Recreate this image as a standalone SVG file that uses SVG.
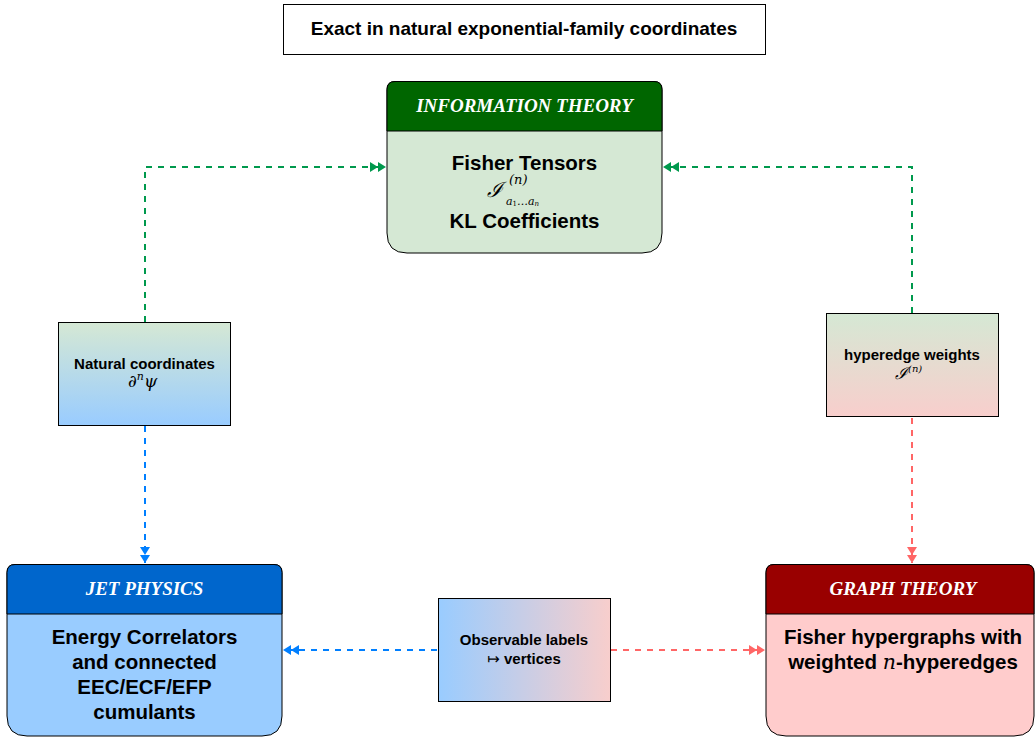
<svg xmlns="http://www.w3.org/2000/svg" width="1035" height="738" viewBox="0 0 1035 738">
<style>
.hdr{font-family:"Liberation Serif",serif;font-style:italic;font-weight:bold;font-size:19px;fill:#ffffff;text-anchor:middle}
.body{font-family:"Liberation Sans",Arial,sans-serif;font-weight:bold;font-size:20.5px;fill:#000;text-anchor:middle}
.small{font-family:"Liberation Sans",Arial,sans-serif;font-weight:bold;font-size:15px;fill:#000;text-anchor:middle}
.math{font-family:"DejaVu Serif","Liberation Serif",serif;font-style:italic;fill:#000}
.edge{fill:none;stroke-width:2;stroke-dasharray:6 6}
.box{stroke:#000;stroke-width:1}
</style>
<defs>
<linearGradient id="gNat" x1="0" y1="0" x2="0" y2="1"><stop offset="0" stop-color="#d5e8d4"/><stop offset="1" stop-color="#99ccff"/></linearGradient>
<linearGradient id="gHyp" x1="0" y1="0" x2="0" y2="1"><stop offset="0" stop-color="#d5e8d4"/><stop offset="1" stop-color="#f8cecc"/></linearGradient>
<linearGradient id="gObs" x1="0" y1="0" x2="1" y2="0"><stop offset="0" stop-color="#99ccff"/><stop offset="1" stop-color="#f8cecc"/></linearGradient>
<marker id="mG" markerWidth="18" markerHeight="12" refX="17" refY="6" orient="auto" markerUnits="userSpaceOnUse"><path d="M1,1 L9,6 L1,11 Z M9,1 L17,6 L9,11 Z" fill="#00994d"/></marker>
<marker id="mB" markerWidth="18" markerHeight="12" refX="17" refY="6" orient="auto" markerUnits="userSpaceOnUse"><path d="M1,1 L9,6 L1,11 Z M9,1 L17,6 L9,11 Z" fill="#007fff"/></marker>
<marker id="mR" markerWidth="18" markerHeight="12" refX="17" refY="6" orient="auto" markerUnits="userSpaceOnUse"><path d="M1,1 L9,6 L1,11 Z M9,1 L17,6 L9,11 Z" fill="#ff6666"/></marker>
</defs>

<g id="edges">
<path class="edge" stroke="#00994d" d="M145,322 V167 H386" marker-end="url(#mG)"/>
<path class="edge" stroke="#00994d" d="M912,313 V167 H663" marker-end="url(#mG)"/>
<path class="edge" stroke="#007fff" d="M145,426 V563" marker-end="url(#mB)"/>
<path class="edge" stroke="#ff6666" d="M912,418 V563" marker-end="url(#mR)"/>
<path class="edge" stroke="#007fff" d="M437,650 H283" marker-end="url(#mB)"/>
<path class="edge" stroke="#ff6666" d="M611,650 H765" marker-end="url(#mR)"/>
</g>

<g id="title">
<rect x="283.5" y="4.5" width="482" height="50" fill="#fff" class="box"/>
<text x="524" y="35" class="small" style="font-size:19px">Exact in natural exponential-family coordinates</text>
</g>

<g id="info">
<path d="M395,81.5 H654 Q662,81.5 662,89.5 V233 Q662,253 642,253 H407 Q387,253 387,233 V89.5 Q387,81.5 395,81.5 Z" fill="#d5e8d4" stroke="#000"/>
<path d="M395,81.5 H654 Q662,81.5 662,89.5 V131 H387 V89.5 Q387,81.5 395,81.5 Z" fill="#006600" stroke="#000"/>
<text x="524.5" y="112" class="hdr">INFORMATION THEORY</text>
<text x="524.5" y="170" class="body">Fisher Tensors</text>
<text x="487" y="197" class="math" font-size="21">ℐ</text>
<text x="509" y="184" class="math" font-size="13">(n)</text>
<text x="506" y="205" class="math" font-size="11">a<tspan font-size="7" dy="1" font-style="normal">1</tspan><tspan dy="-1">…a</tspan><tspan font-size="7" dy="1">n</tspan></text>
<text x="524.5" y="228" class="body">KL Coefficients</text>
</g>

<g id="natural">
<rect x="58.5" y="322.5" width="172" height="103" fill="url(#gNat)" class="box"/>
<text x="144.5" y="369" class="small">Natural coordinates</text>
<text x="128" y="387" class="math" font-size="17">∂<tspan font-size="11" dy="-7">n</tspan><tspan dy="7">ψ</tspan></text>
</g>

<g id="hyperedge">
<rect x="826.5" y="313.5" width="172" height="103" fill="url(#gHyp)" class="box"/>
<text x="912" y="360" class="small">hyperedge weights</text>
<text x="895" y="379" class="math" font-size="17">ℐ<tspan font-size="10" dy="-7">(n)</tspan></text>
</g>

<g id="jet">
<path d="M15,564.5 H274 Q282,564.5 282,572.5 V716 Q282,736 262,736 H27 Q7,736 7,716 V572.5 Q7,564.5 15,564.5 Z" fill="#99ccff" stroke="#000"/>
<path d="M15,564.5 H274 Q282,564.5 282,572.5 V614 H7 V572.5 Q7,564.5 15,564.5 Z" fill="#0066cc" stroke="#000"/>
<text x="144.5" y="595" class="hdr">JET PHYSICS</text>
<text x="144.5" y="644" class="body">Energy Correlators</text>
<text x="144.5" y="669" class="body">and connected</text>
<text x="144.5" y="694" class="body">EEC/ECF/EFP</text>
<text x="144.5" y="719" class="body">cumulants</text>
</g>

<g id="graph">
<path d="M774,564.5 H1026 Q1034,564.5 1034,572.5 V716 Q1034,736 1014,736 H786 Q766,736 766,716 V572.5 Q766,564.5 774,564.5 Z" fill="#ffcccc" stroke="#000"/>
<path d="M774,564.5 H1026 Q1034,564.5 1034,572.5 V614 H766 V572.5 Q766,564.5 774,564.5 Z" fill="#990000" stroke="#000"/>
<text x="903" y="595" class="hdr">GRAPH THEORY</text>
<text x="903" y="644" class="body">Fisher hypergraphs with</text>
<text x="903" y="669" class="body">weighted <tspan class="math" font-weight="normal">n</tspan>-hyperedges</text>
</g>

<g id="observable">
<rect x="438.5" y="598.5" width="172" height="103" fill="url(#gObs)" class="box"/>
<text x="524" y="645" class="small">Observable labels</text>
<text x="524" y="664" class="small"><tspan font-family="DejaVu Sans" font-weight="normal">↦</tspan> vertices</text>
</g>
</svg>
